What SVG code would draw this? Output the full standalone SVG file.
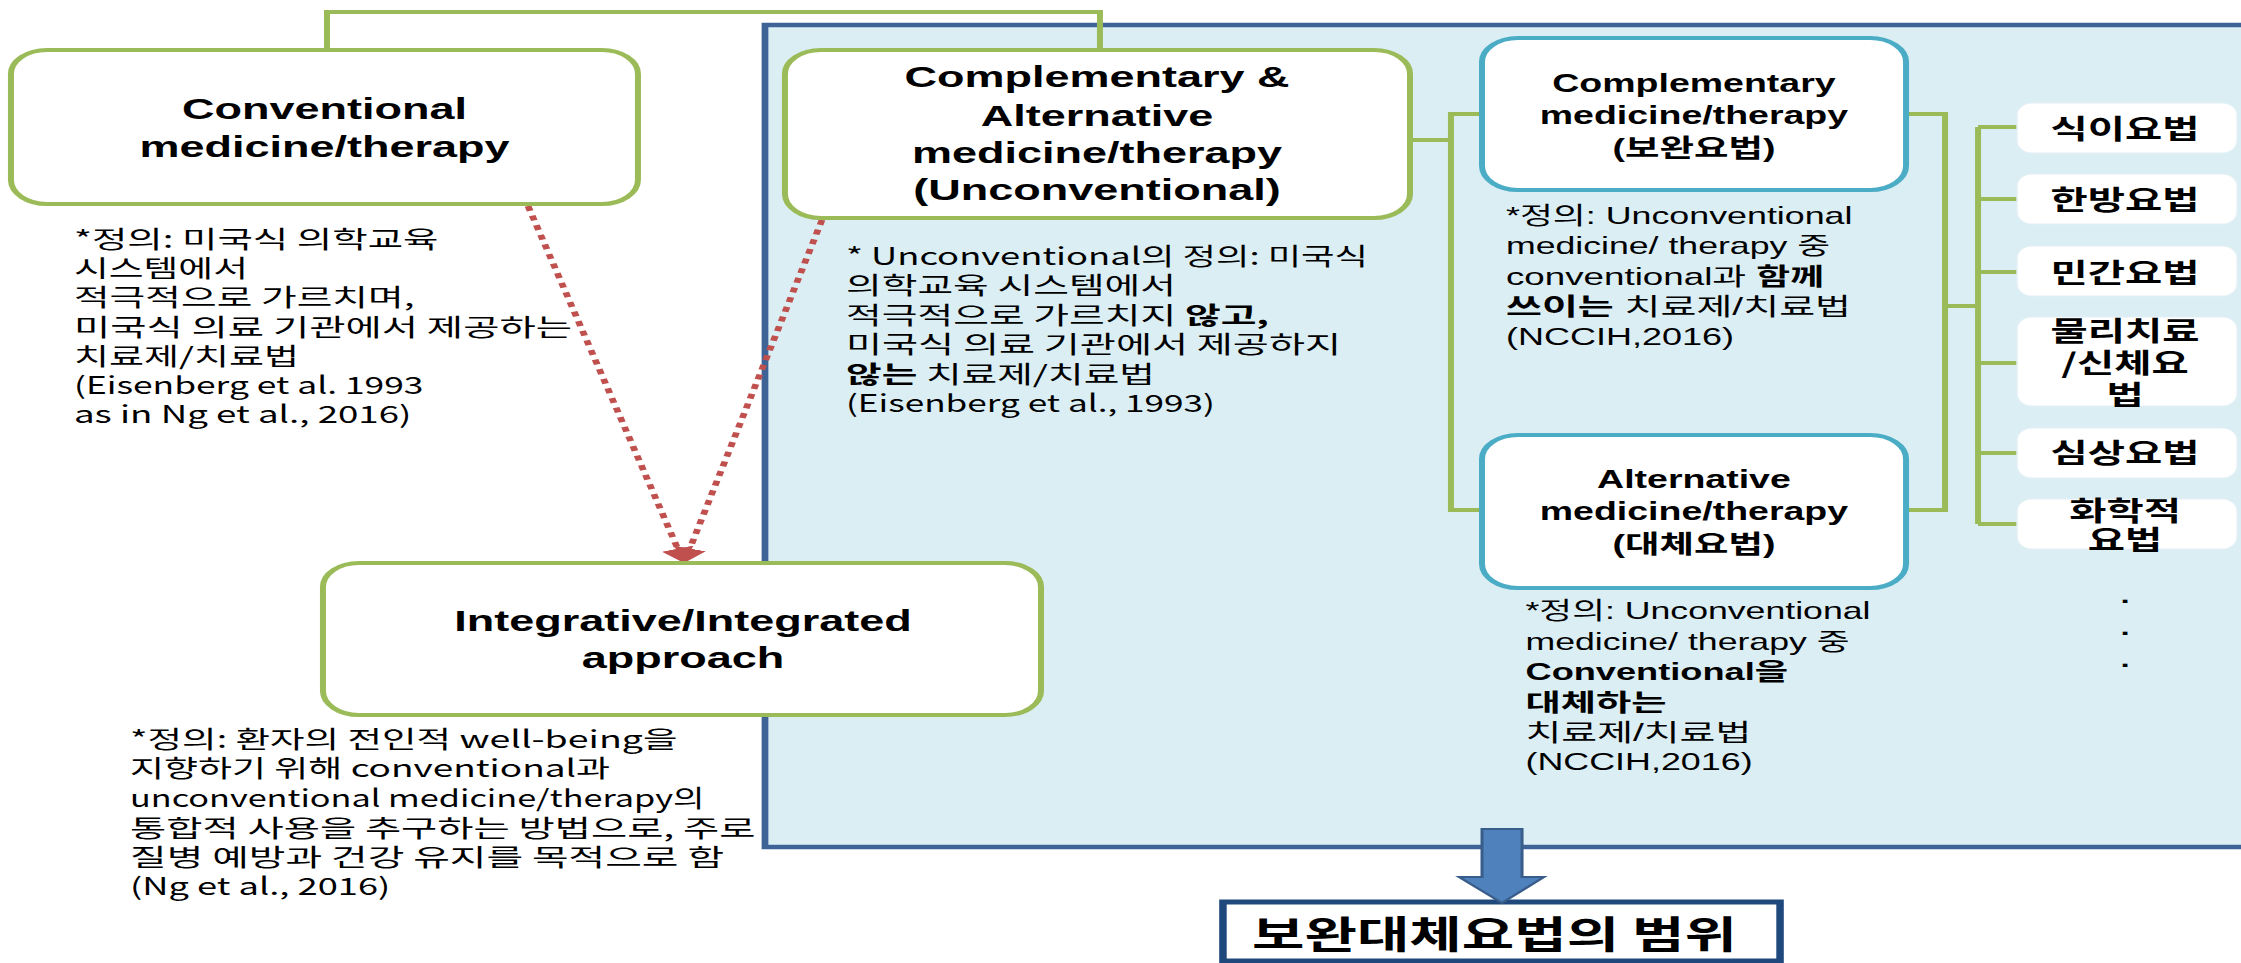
<svg xmlns="http://www.w3.org/2000/svg" width="2241" height="963" viewBox="0 0 2241 963">
<defs>
<style>
.box{fill:#fff;stroke:#9BBB59;stroke-width:4}
.tbox{fill:#fff;stroke:#4BACC6;stroke-width:4}
.ibox{fill:#fff;stroke:#E4F0F5;stroke-width:1}
.g{fill:none;stroke:#9BBB59;stroke-width:4}
.r{fill:none;stroke:#C0504D;stroke-width:4.5;stroke-dasharray:5 5}
.t{font-family:"Liberation Sans",Arial,"Noto Sans CJK KR",sans-serif;font-weight:bold;fill:#000;text-anchor:middle}
.k{font-family:"Noto Sans CJK KR",sans-serif;font-size:24px;fill:#000}
.a{font-family:"Liberation Sans",Arial,"Noto Sans CJK KR",sans-serif;font-size:24px;fill:#000}
.kb{font-family:"Noto Sans CJK KR",sans-serif;font-weight:bold;text-anchor:middle;font-size:27px;fill:#000}
.b{font-weight:bold}
</style>
<marker id="ah" viewBox="0 0 10 10" refX="0" refY="5" markerUnits="userSpaceOnUse" markerWidth="15" markerHeight="22" orient="auto" preserveAspectRatio="none"><path d="M0,0 L10,5 L0,10 z" fill="#C0504D"/></marker>
</defs>
<rect x="0" y="0" width="2241" height="963" fill="#fff"/>
<g transform="scale(1.5,1)">
<g id="panel"><rect x="510" y="25" width="1000" height="822" fill="#DBEEF4" stroke="#3E6497" stroke-width="4.5"/></g>

<g id="connectors">
<path class="g" d="M218,50 V12 H733.3 V50"/>
<path class="g" d="M940,140 H967.3"/>
<path class="g" d="M988,114 H967.3 V510 H988"/>
<path class="g" d="M1270.7,114 H1296.7 V510 H1270.7"/>
<path class="g" d="M1296.7,306 H1318.7"/>
<path class="g" d="M1318.7,127 V524"/>
<path class="g" d="M1318.7,127 H1344.7 M1318.7,199 H1344.7 M1318.7,272 H1344.7 M1318.7,363 H1344.7 M1318.7,453 H1344.7 M1318.7,524 H1344.7"/>
<path class="r" d="M352,206 L451.8,548.6" marker-end="url(#ah)"/>
<path class="r" d="M548,220 L459.9,548.5" marker-end="url(#ah)"/>
</g>

<g id="conventional">
<rect class="box" x="7.3" y="50" width="418" height="154" rx="24" ry="24"/>
<text class="t" font-size="30"><tspan x="216.3" y="119">Conventional</tspan><tspan x="216.3" y="157">medicine/therapy</tspan></text>
<text class="k">
<tspan x="49.3" y="248" textLength="243" lengthAdjust="spacingAndGlyphs">*정의: 미국식 의학교육</tspan>
<tspan x="49.3" y="277" textLength="116" lengthAdjust="spacingAndGlyphs">시스템에서</tspan>
<tspan x="49.3" y="306" textLength="227" lengthAdjust="spacingAndGlyphs">적극적으로 가르치며,</tspan>
<tspan x="49.3" y="336" textLength="332" lengthAdjust="spacingAndGlyphs">미국식 의료 기관에서 제공하는</tspan>
<tspan x="49.3" y="365" textLength="150" lengthAdjust="spacingAndGlyphs">치료제/치료법</tspan>
<tspan x="49.3" y="394" textLength="233" lengthAdjust="spacingAndGlyphs">(Eisenberg et al. 1993</tspan>
<tspan x="49.3" y="423" textLength="225" lengthAdjust="spacingAndGlyphs">as in Ng et al., 2016)</tspan>
</text>
</g>

<g id="cam">
<rect class="box" x="523.3" y="50" width="416.7" height="168" rx="24" ry="24"/>
<text class="t" font-size="30"><tspan x="731.3" y="87">Complementary &amp;</tspan><tspan x="731.3" y="126">Alternative</tspan><tspan x="731.3" y="163">medicine/therapy</tspan><tspan x="731.3" y="200">(Unconventional)</tspan></text>
<text class="k">
<tspan x="564" y="265" textLength="348" lengthAdjust="spacingAndGlyphs">* Unconventional의 정의: 미국식</tspan>
<tspan x="564" y="294" textLength="220" lengthAdjust="spacingAndGlyphs">의학교육 시스템에서</tspan>
<tspan x="564" y="324" textLength="282" lengthAdjust="spacingAndGlyphs">적극적으로 가르치지 <tspan class="b">않고,</tspan></tspan>
<tspan x="564" y="353" textLength="330" lengthAdjust="spacingAndGlyphs">미국식 의료 기관에서 제공하지</tspan>
<tspan x="564" y="383" textLength="206" lengthAdjust="spacingAndGlyphs"><tspan class="b">않는</tspan> 치료제/치료법</tspan>
<tspan x="564" y="412" textLength="246" lengthAdjust="spacingAndGlyphs">(Eisenberg et al., 1993)</tspan>
</text>
</g>

<g id="integrative">
<rect class="box" x="215.3" y="563" width="478.7" height="152" rx="24" ry="24"/>
<text class="t" font-size="30"><tspan x="455.3" y="631">Integrative/Integrated</tspan><tspan x="455.3" y="668">approach</tspan></text>
<text class="k">
<tspan x="86.7" y="748" textLength="365" lengthAdjust="spacingAndGlyphs">*정의: 환자의 전인적 well-being을</tspan>
<tspan x="86.7" y="777" textLength="320" lengthAdjust="spacingAndGlyphs">지향하기 위해 conventional과</tspan>
<tspan x="86.7" y="807" textLength="383" lengthAdjust="spacingAndGlyphs">unconventional medicine/therapy의</tspan>
<tspan x="86.7" y="837" textLength="417" lengthAdjust="spacingAndGlyphs">통합적 사용을 추구하는 방법으로, 주로</tspan>
<tspan x="86.7" y="866" textLength="396" lengthAdjust="spacingAndGlyphs">질병 예방과 건강 유지를 목적으로 함</tspan>
<tspan x="86.7" y="895" textLength="173.5" lengthAdjust="spacingAndGlyphs">(Ng et al., 2016)</tspan>
</text>
</g>

<g id="complementary">
<rect class="tbox" x="988" y="38" width="282.7" height="152" rx="24" ry="24"/>
<text class="t" font-size="25"><tspan x="1129.3" y="92">Complementary</tspan><tspan x="1129.3" y="124">medicine/therapy</tspan><tspan x="1129.3" y="157">(보완요법)</tspan></text>
<text class="a">
<tspan x="1004" y="224" textLength="231" lengthAdjust="spacingAndGlyphs">*정의: Unconventional</tspan>
<tspan x="1004" y="254" textLength="216" lengthAdjust="spacingAndGlyphs">medicine/ therapy 중</tspan>
<tspan x="1004" y="285" textLength="212" lengthAdjust="spacingAndGlyphs">conventional과  <tspan class="b">함께</tspan></tspan>
<tspan x="1004" y="315" textLength="230" lengthAdjust="spacingAndGlyphs"><tspan class="b">쓰이는</tspan> 치료제/치료법</tspan>
<tspan x="1004" y="345" textLength="152" lengthAdjust="spacingAndGlyphs">(NCCIH,2016)</tspan>
</text>
</g>

<g id="alternative">
<rect class="tbox" x="988" y="435" width="282.7" height="153" rx="24" ry="24"/>
<text class="t" font-size="25"><tspan x="1129.3" y="488">Alternative</tspan><tspan x="1129.3" y="520">medicine/therapy</tspan><tspan x="1129.3" y="553">(대체요법)</tspan></text>
<text class="a">
<tspan x="1017" y="619" textLength="230" lengthAdjust="spacingAndGlyphs">*정의: Unconventional</tspan>
<tspan x="1017" y="650" textLength="216" lengthAdjust="spacingAndGlyphs">medicine/ therapy 중</tspan>
<tspan x="1017" y="680" class="b" textLength="175" lengthAdjust="spacingAndGlyphs">Conventional을</tspan>
<tspan x="1017" y="711" class="b" textLength="94" lengthAdjust="spacingAndGlyphs">대체하는</tspan>
<tspan x="1017" y="741" textLength="150.5" lengthAdjust="spacingAndGlyphs">치료제/치료법</tspan>
<tspan x="1017" y="770" textLength="151.4" lengthAdjust="spacingAndGlyphs">(NCCIH,2016)</tspan>
</text>
</g>

<g id="item-diet"><rect class="ibox" x="1344.7" y="103" width="146.7" height="50" rx="10" ry="12"/><text class="kb" x="1416.7" y="139">식이요법</text></g>
<g id="item-herbal"><rect class="ibox" x="1344.7" y="174" width="146.7" height="50" rx="10" ry="12"/><text class="kb" x="1416.7" y="210">한방요법</text></g>
<g id="item-folk"><rect class="ibox" x="1344.7" y="246" width="146.7" height="50" rx="10" ry="12"/><text class="kb" x="1416.7" y="283">민간요법</text></g>
<g id="item-physical"><rect class="ibox" x="1344.7" y="317" width="146.7" height="89" rx="10" ry="12"/><text class="kb"><tspan x="1416.7" y="341">물리치료</tspan><tspan x="1416.7" y="373">/신체요</tspan><tspan x="1416.7" y="405">법</tspan></text></g>
<g id="item-imagery"><rect class="ibox" x="1344.7" y="428" width="146.7" height="50" rx="10" ry="12"/><text class="kb" x="1416.7" y="463">심상요법</text></g>
<g id="item-chemical"><rect class="ibox" x="1344.7" y="499" width="146.7" height="50" rx="10" ry="12"/><text class="kb"><tspan x="1416.7" y="521">화학적</tspan><tspan x="1416.7" y="550">요법</tspan></text></g>
<g id="item-more">
<text class="t" font-size="22"><tspan x="1416.7" y="603">.</tspan><tspan x="1416.7" y="635">.</tspan><tspan x="1416.7" y="667">.</tspan></text>
</g>

<g id="scope">
<rect x="815.3" y="902" width="371.4" height="59" fill="#fff" stroke="#1F497D" stroke-width="5"/>
<text class="kb" style="text-anchor:start;font-size:38px" x="834.7" y="948">보완대체요법의 범위</text>
</g>
<g id="scope-arrow">
<polygon points="988,829 1014.7,829 1014.7,877 1029.3,877 1001.3,903 972.7,877 988,877" fill="#4F81BD" stroke="#385D8A" stroke-width="2"/>
</g>
</g>
</svg>
